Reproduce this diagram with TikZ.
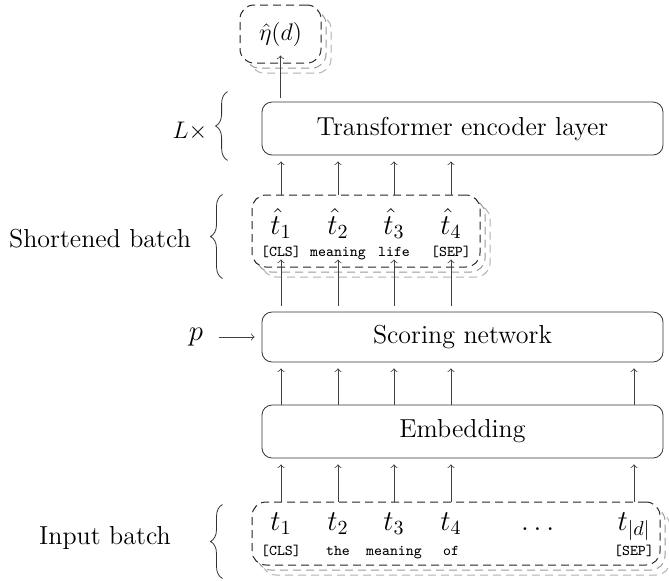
\documentclass[tikz,border=0pt]{standalone}
\usepackage{amsmath}
\usetikzlibrary{positioning, calc, shadows, decorations.pathreplacing}

\tikzset{
  layer/.style={draw=black!80, rounded corners=5pt, minimum width=200.5pt,
    minimum height=26.5pt, font=\fontsize{13}{15}\selectfont},
  batch/.style={draw=black!85, line width=0.5pt, dash pattern=on 4pt off 2.5pt, fill=white, rounded corners=7pt,
    copy shadow={shadow xshift=5pt, shadow yshift=-5pt, draw=black!30, fill=white, dash pattern=on 4pt off 2.5pt},
    copy shadow={shadow xshift=2.5pt, shadow yshift=-2.5pt, draw=black!40, fill=white, dash pattern=on 4pt off 2.5pt}},
  tok/.style={font=\fontsize{7.5}{9}\selectfont\ttfamily, anchor=base},
  sym/.style={font=\Large, anchor=base},
  lbl/.style={font=\fontsize{13}{15}\selectfont},
  arr/.style={->, draw=black!75, shorten >=3pt},
  brace/.style={decorate, decoration={brace, amplitude=6pt}, draw=black!80},
}

\begin{document}
\begin{tikzpicture}[x=0.5pt, y=-0.5pt, >=to, inner sep=0pt]
    \useasboundingbox (0,0) rectangle (669,580);

    % layers
    \node[layer] (enc) at (462.5,128.5) {Transformer encoder layer};
    \node[layer, minimum height=25pt] (score) at (462.5,337) {Scoring network};
    \node[layer] (emb) at (462.5,431.5) {Embedding};

    % batches
    \node[batch, minimum width=40.5pt, minimum height=29pt] (out) at (280.5,34) {\large$\hat{\eta}(d)$};
    \node[batch, minimum width=114pt, minimum height=36pt] (short) at (366,231) {};
    \node[batch, minimum width=204pt, minimum height=31.5pt] (in) at (456,533.5) {};

    % tokens
    \foreach \i/\x/\w in {1/281/[CLS], 2/338/meaning, 3/394/life, 4/451/[SEP]} {
        \node[sym] (s\i) at (\x,234) {$\hat{t}_\i$};
        \node[tok] (sw\i) at (\x,256) {\w};
    }
    \foreach \i/\x/\w in {1/281/[CLS], 2/338/the, 3/394/meaning, 4/451/of} {
        \node[sym] (t\i) at (\x,530) {$t_\i$};
        \node[tok] (tw\i) at (\x,555) {\w};
    }
    \node[sym] (tdots) at (540,530) {$\dots$};
    \node[sym] (td) at (634,530) {$t_{|d|}$};
    \node[tok] (twd) at (634,555) {[SEP]};

    % arrows
    \foreach \i in {1,...,4} {
        \draw[arr] (t\i |- in.north) -- (t\i |- emb.south);
        \draw[arr] (t\i |- emb.north) -- (t\i |- score.south);
        \draw[arr, shorten <=3pt, shorten >=-4pt] (s\i |- score.north) -- (s\i |- short.south);
        \draw[arr] (s\i |- short.north) -- (s\i |- enc.south);
    }
    \draw[arr] (td |- in.north) -- (td |- emb.south);
    \draw[arr] (td |- emb.north) -- (td |- score.south);
    \draw[arr, shorten <=2pt, shorten >=-4pt] (out.south |- enc.north) -- (out.south);

    % side labels
    \node (p) at (196,337) {\Large$p$};
    \draw[arr, shorten <=8pt, shorten >=3.5pt] (p) -- (score.west);

    \draw[brace] ($(enc.south west)+(-34,5)$) -- ($(enc.north west)+(-34,-10)$);
    \node[lbl] (reps) at (190,131) {\large$L\times$};
    \draw[brace] ($(short.south west)+(-29,11)$) -- ($(short.north west)+(-29,0)$);
    \node[lbl] (shortlbl) at (100,239) {Shortened batch};
    \draw[brace] ($(in.south west)+(-29,13)$) -- ($(in.north west)+(-29,3)$);
    \node[lbl] (inlbl) at (105,538) {Input batch};
\end{tikzpicture}
\end{document}
